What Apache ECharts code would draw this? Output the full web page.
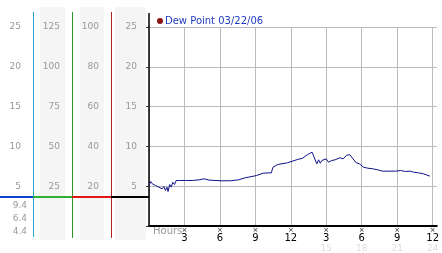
<!DOCTYPE html>
<html><head><meta charset="utf-8">
<script src="https://cdn.jsdelivr.net/npm/echarts@6/dist/echarts.min.js"></script>
<style>html,body{margin:0;padding:0;background:#fff}#c{width:442px;height:253px}</style>
</head><body><div id="c"></div>
<script>
const seriesName = 'Dew Point 03/22/06';
const hours = [0,0.14,0.28,0.42,0.55,0.69,0.83,0.97,1.11,1.25,1.39,1.52,1.61,1.75,1.88,2.02,2.16,2.3,2.44,2.58,3.08,3.69,4.24,4.66,5.07,6.1,6.88,7.58,8.13,9.1,9.66,10.35,10.49,10.9,11.72,12.55,12.97,13.4,13.8,13.94,14.2,14.35,14.49,14.63,14.77,14.99,15.19,15.46,15.74,15.88,16.15,16.43,16.71,16.98,17.26,17.54,17.81,18.15,18.51,18.93,19.34,19.76,20.86,21.28,21.7,22.11,22.39,22.8,23.22,23.77];
const dewPoint = [5.09,5.59,5.3,5.5,5.09,5.3,4.88,5.0,4.67,4.96,4.46,4.88,4.33,5.21,4.88,5.5,5.21,5.72,5.5,5.72,5.72,5.72,5.8,5.93,5.77,5.68,5.68,5.8,6.05,6.34,6.64,6.68,7.39,7.73,7.94,8.35,8.5,8.95,9.27,9.15,7.81,8.31,7.89,8.23,7.98,8.44,8.02,8.23,8.31,8.14,8.57,8.44,8.86,8.98,8.44,7.94,7.81,7.39,7.26,7.19,7.06,6.89,6.89,6.97,6.85,6.89,6.76,6.68,6.56,6.26];
const lowerLabels = ['4.4','6.4','9.4'];

const font = 'DejaVu Sans';
const chart = echarts.init(document.getElementById('c'), null, {renderer:'canvas'});
const hideZero = v => (v === 0 ? '' : String(v));
const sideAxis = (offset, max, interval) => ({
  type:'value', gridIndex:0, position:'left', offset, min:0, max, interval,
  axisLine:{show:false}, axisTick:{show:false}, splitLine:{show:false},
  axisLabel:{color:'#999', fontFamily:font, fontSize:9, margin:12, formatter:hideZero}
});
chart.setOption({
  animation:false,
  backgroundColor:'#fff',
  legend:{left:157, top:16, padding:0, itemWidth:6, itemHeight:6, icon:'circle',
    textStyle:{color:'#1f3cc0', fontFamily:font, fontSize:10, padding:[0,0,0,-3]},
    data:[{name:seriesName, itemStyle:{color:'#8b1414'}}]},
  grid:[
    {left:149, right:0, top:27, bottom:27},
    {left:33, width:1, top:198.5, bottom:14.5}
  ],
  xAxis:[
    {type:'value', gridIndex:0, min:0, max:24.35, interval:3,
     axisLine:{lineStyle:{color:'#000', width:2}},
     axisTick:{show:false},
     splitLine:{show:true, showMaxLine:false, lineStyle:{color:'#bbb', width:1}},
     axisLabel:{margin:2, formatter:v => {
        if (v === 0 || Math.abs(v % 3) > 1e-6) return '';
        const top = v > 12 ? v - 12 : v;
        const bot = v > 12 ? String(v) : ' ';
        return '{m|×}\n{n|' + top + '}\n{g|' + bot + '}';
      },
      rich:{
        m:{fontSize:7, lineHeight:5, color:'#222', fontFamily:font},
        n:{fontSize:10, lineHeight:10, color:'#000', fontFamily:font},
        g:{fontSize:9, lineHeight:11, color:'#ddd', fontFamily:font}
      }}},
    {type:'value', gridIndex:1, show:false}
  ],
  yAxis:[
    {type:'value', gridIndex:0, position:'left', min:0, max:25, interval:5,
     axisLine:{show:true, lineStyle:{color:'#000', width:1.5}},
     axisTick:{show:true, length:3, lineStyle:{color:'#333'}},
     splitLine:{show:true, lineStyle:{color:'#bbb', width:1}},
     axisLabel:{color:'#999', fontFamily:font, fontSize:9, margin:12, formatter:hideZero}},
    sideAxis(38, 100, 20),
    sideAxis(77, 125, 25),
    sideAxis(116, 25, 5),
    {type:'category', gridIndex:1, position:'left', data:lowerLabels,
     axisLine:{show:false}, axisTick:{show:false}, splitLine:{show:false},
     axisLabel:{color:'#999', fontFamily:font, fontSize:9, margin:6}}
  ],
  graphic:[
    {type:'rect', z:-1, shape:{x:40, y:7, width:25, height:233}, style:{fill:'#f5f5f5'}},
    {type:'rect', z:-1, shape:{x:80, y:7, width:24, height:233}, style:{fill:'#f5f5f5'}},
    {type:'rect', z:-1, shape:{x:115, y:7, width:31, height:233}, style:{fill:'#f5f5f5'}},
    {type:'line', shape:{x1:33.5, y1:12, x2:33.5, y2:237}, style:{stroke:'#2a9fd6', lineWidth:1}},
    {type:'line', shape:{x1:72.5, y1:12, x2:72.5, y2:238}, style:{stroke:'#2a9a2a', lineWidth:1}},
    {type:'line', shape:{x1:111.5, y1:12, x2:111.5, y2:238}, style:{stroke:'#b02020', lineWidth:1}},
    {type:'line', shape:{x1:149, y1:13, x2:149, y2:28}, style:{stroke:'#000', lineWidth:1.5}},
    {type:'line', shape:{x1:0, y1:197, x2:33, y2:197}, style:{stroke:'#1040d0', lineWidth:2}},
    {type:'line', shape:{x1:33, y1:197, x2:72, y2:197}, style:{stroke:'#30b030', lineWidth:2}},
    {type:'line', shape:{x1:72, y1:197, x2:111, y2:197}, style:{stroke:'#e01515', lineWidth:2}},
    {type:'line', shape:{x1:111, y1:197, x2:149, y2:197}, style:{stroke:'#000', lineWidth:2}},
    {type:'text', x:153, y:226, style:{text:'Hours', fill:'#999', font:'10px "DejaVu Sans"'}}
  ],
  series:[{
    name:seriesName, type:'line', xAxisIndex:0, yAxisIndex:0,
    data:hours.map((h,i)=>[h, dewPoint[i]]),
    symbol:'none', lineStyle:{color:'#10108a', width:1}, itemStyle:{color:'#8b1414'}
  }]
});
</script></body></html>
